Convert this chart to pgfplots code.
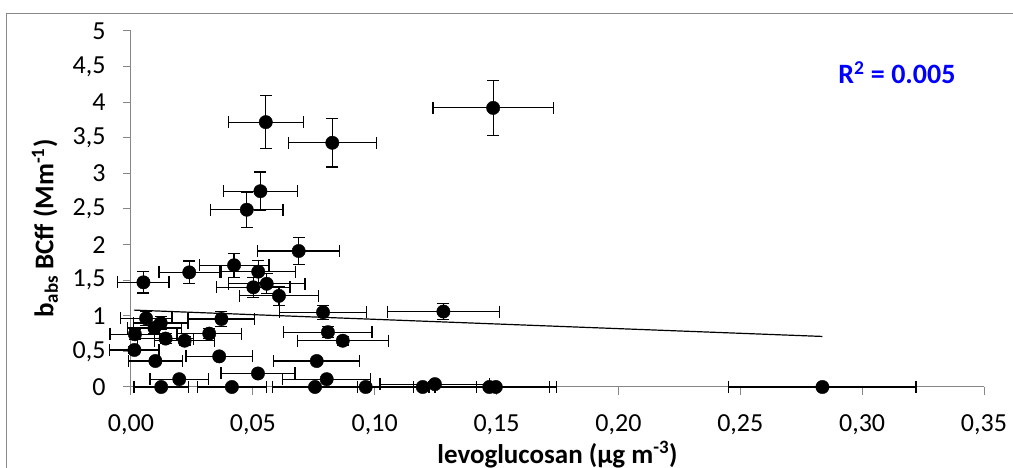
\documentclass[border=0pt]{standalone}
\usepackage{pgfplots}
\pgfplotsset{compat=1.18}
\usepackage{pgfplotstable}
\usepackage{fontspec}
\setmainfont{Carlito}
\definecolor{axgray}{RGB}{134,134,134}
\definecolor{framegray}{RGB}{137,137,137}
\definecolor{rblue}{RGB}{0,0,255}

\pgfplotstableread{
x y ex ey
0.0553 3.72 0.0154 0.37
0.0826 3.43 0.0181 0.34
0.1486 3.92 0.0247 0.39
0.0531 2.75 0.0153 0.27
0.0475 2.49 0.0149 0.25
0.0688 1.91 0.0168 0.19
0.0051 1.47 0.0105 0.15
0.0239 1.61 0.0124 0.16
0.0423 1.71 0.0143 0.17
0.0522 1.62 0.0153 0.16
0.0502 1.40 0.0150 0.14
0.0557 1.45 0.0157 0.14
0.0607 1.28 0.0161 0.13
0.0788 1.05 0.0178 0.10
0.1282 1.06 0.0229 0.11
0.0062 0.965 0.0106 0.10
0.0371 0.955 0.0137 0.10
0.0122 0.90 0.0112 0.09
0.0096 0.83 0.0110 0.08
0.0016 0.74 0.0102 0.07
0.0142 0.68 0.0114 0.07
0.0220 0.65 0.0122 0.06
0.0321 0.75 0.0132 0.07
0.0808 0.77 0.0181 0.08
0.0869 0.65 0.0187 0.06
0.0014 0.52 0.0101 0.05
0.0100 0.365 0.0110 0.04
0.0362 0.43 0.0136 0.04
0.0762 0.365 0.0176 0.04
0.0521 0.19 0.0152 0.02
0.0198 0.11 0.0120 0.01
0.0803 0.11 0.0180 0.01
0.0124 0 0.0112 0
0.0414 0 0.0141 0
0.0755 0 0.0176 0
0.0963 0 0.0196 0
0.1197 0 0.0220 0
0.1247 0.04 0.0225 0.004
0.1470 0 0.0247 0
0.1497 0 0.0250 0
0.2837 0 0.0384 0
}\datatable

\begin{document}
\begin{tikzpicture}
\useasboundingbox (-131pt,-81pt) rectangle (882pt,387pt);
\draw[framegray, line width=1pt] (-124pt,-81pt) -- (-124pt,373pt) -- (882pt,373pt);
\begin{axis}[
  at={(0pt,0pt)}, anchor=origin,
  scale only axis, width=853pt, height=356pt,
  xmin=0, xmax=0.35, ymin=0, ymax=5,
  clip=false,
  axis lines=left,
  axis line style={draw=axgray, line width=1pt, -},
  tick align=outside,
  major tick length=8pt,
  tick style={axgray, line width=1pt},
  xtick={0,0.05,0.1,0.15,0.2,0.25,0.3,0.35},
  ytick={0,0.5,1,1.5,2,2.5,3,3.5,4,4.5,5},
  minor tick num=0,
  xticklabel style={yshift=-16pt, /pgf/number format/.cd, use comma, fixed, fixed zerofill, precision=2},
  yticklabel style={xshift=-14pt, /pgf/number format/.cd, use comma, fixed, precision=1},
  /pgf/number format/assume math mode=true,
  ticklabel style={font=\fontsize{26}{30}\selectfont, text=black},
  every axis y label/.style={at={(axis description cs:-0.1008,0.445)}, rotate=90, anchor=center},
  every axis x label/.style={at={(axis description cs:0.5,-0.2135)}, anchor=base},
  xlabel={\fontsize{27}{31}\selectfont\bfseries levoglucosan (µg m\textsuperscript{-3})},
  ylabel={\fontsize{27}{31}\selectfont\bfseries b\textsubscript{abs} BCff (Mm\textsuperscript{-1})},
]
\addplot[black, line width=1.2pt] coordinates {(0.0012,1.08) (0.2837,0.71)};
% whiskers
\addplot[only marks, mark=none, draw=none,
  error bars/.cd, x dir=both, x explicit, y dir=both, y explicit,
  error mark=none,
  error bar style={black, line width=1.2pt}]
  table[x=x, y=y, x error=ex, y error=ey] {\datatable};
% caps of the horizontal bars
\addplot[only marks, mark=|, mark size=6pt, black, mark options={line width=1.2pt}]
  table[x expr=\thisrow{x}-\thisrow{ex}, y=y] {\datatable};
\addplot[only marks, mark=|, mark size=6pt, black, mark options={line width=1.2pt}]
  table[x expr=\thisrow{x}+\thisrow{ex}, y=y] {\datatable};
% caps of the vertical bars
\addplot[only marks, mark=-, mark size=6pt, black, mark options={line width=1.2pt}]
  table[x=x, y expr=\thisrow{y}-\thisrow{ey}] {\datatable};
\addplot[only marks, mark=-, mark size=6pt, black, mark options={line width=1.2pt}]
  table[x=x, y expr=\thisrow{y}+\thisrow{ey}] {\datatable};
% points
\addplot[only marks, mark=*, mark size=6.7pt, black,
  mark options={fill=black, draw=black}]
  table[x=x, y=y] {\datatable};
\node[text=rblue, font=\fontsize{28}{32}\selectfont\bfseries] at (axis cs:0.3143,4.41) {R\textsuperscript{2} = 0.005};
\end{axis}
\end{tikzpicture}
\end{document}
